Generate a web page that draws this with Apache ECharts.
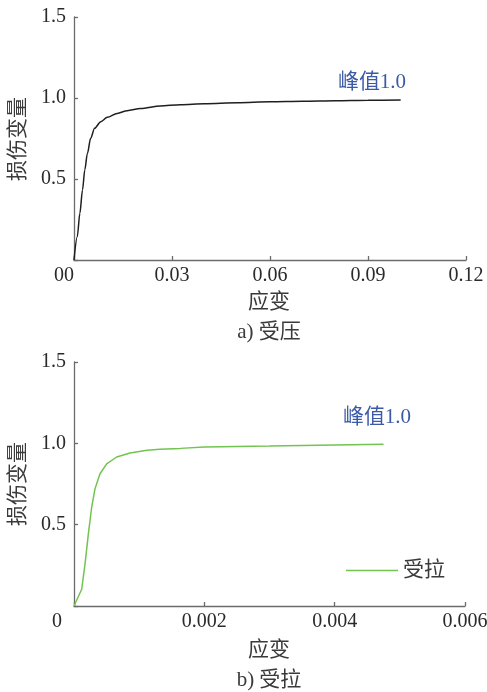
<!DOCTYPE html>
<html>
<head>
<meta charset="utf-8">
<script src="https://cdn.jsdelivr.net/npm/echarts@6/dist/echarts.min.js"></script>
<style>html,body{margin:0;padding:0;background:#fff}#c{width:487px;height:692px}</style>
</head>
<body>
<div id="c"></div>
<script>
// Compression (受压) damage curve: [strain, damage]
const compressionData = [
  [0, 0], [0.001, 0.144], [0.0018, 0.288], [0.0026, 0.432], [0.0033, 0.556],
  [0.0041, 0.658], [0.0051, 0.751], [0.0063, 0.813], [0.0082, 0.854],
  [0.0102, 0.881], [0.0132, 0.905], [0.0163, 0.922], [0.0204, 0.935],
  [0.0264, 0.951], [0.0325, 0.959], [0.04, 0.965], [0.05, 0.971],
  [0.06, 0.977], [0.07, 0.980], [0.08, 0.983], [0.09, 0.986], [0.1, 0.988]
];
// Tension (受拉) damage curve: [strain, damage]
const tensionData = [
  [0, 0], [0.000118, 0.103], [0.000169, 0.257], [0.00022, 0.442],
  [0.000271, 0.607], [0.000322, 0.72], [0.000399, 0.813], [0.000501, 0.874],
  [0.000655, 0.916], [0.00086, 0.94], [0.00112, 0.957], [0.00132, 0.963],
  [0.00163, 0.969], [0.002, 0.977], [0.003, 0.983], [0.004, 0.99], [0.00475, 0.995]
];
const yTicks = { min: 0, max: 1.5, interval: 0.5 };
const xTicksTop = { min: 0, max: 0.12, interval: 0.03 };
const xTicksBottom = { min: 0, max: 0.006, interval: 0.002 };
const yName = '损伤变量';
const xName = '应变';
const captionTop = 'a) 受压';
const captionBottom = 'b) 受拉';
const peakLabel = '峰值1.0';
const seriesNames = ['受压', '受拉'];

const serif = '"Liberation Serif","Noto Sans CJK SC",serif';
const cjk = '"Liberation Serif","Noto Sans CJK SC",sans-serif';
const axisColor = '#6b6b6b';
const textColor = '#2a2a2a';

function xAxis(gi, t, digits, minLabel) {
  return {
    type: 'value', gridIndex: gi, min: t.min, max: t.max, interval: t.interval,
    axisLine: { show: true, lineStyle: { color: axisColor, width: 1.3 } },
    axisTick: { show: true, inside: true, length: 4, lineStyle: { color: axisColor, width: 1.3 } },
    splitLine: { show: false },
    axisLabel: {
      margin: 6, fontSize: 20, fontFamily: serif, color: textColor,
      alignMinLabel: 'right', hideOverlap: false,
      formatter: v => v === 0 ? minLabel : v.toFixed(digits),
      rich: { z: { fontSize: 20, fontFamily: serif, color: textColor, padding: [0, 12, 0, 0] } }
    }
  };
}
function yAxis(gi) {
  return {
    type: 'value', gridIndex: gi, min: yTicks.min, max: yTicks.max, interval: yTicks.interval,
    axisLine: { show: true, lineStyle: { color: axisColor, width: 1.3 } },
    axisTick: { show: true, inside: true, length: 4, lineStyle: { color: axisColor, width: 1.3 } },
    splitLine: { show: false },
    axisLabel: {
      margin: 8, fontSize: 20, fontFamily: serif, color: textColor,
      formatter: v => v === 0 ? '' : v.toFixed(1)
    }
  };
}
function txt(x, y, s, opt) {
  return {
    type: 'text', x: x, y: y,
    style: Object.assign({
      text: s, fontSize: 21, fontFamily: cjk, fill: '#3a3a3a',
      align: 'center', verticalAlign: 'middle'
    }, opt || {})
  };
}

const chart = echarts.init(document.getElementById('c'), null, { renderer: 'canvas' });
chart.setOption({
  backgroundColor: '#fff',
  animation: false,
  grid: [
    { left: 74, right: 21, top: 17, height: 243, containLabel: false, outerBoundsMode: 'none' },
    { left: 74, right: 22, top: 362, height: 244, containLabel: false, outerBoundsMode: 'none' }
  ],
  xAxis: [xAxis(0, xTicksTop, 2, '00'), xAxis(1, xTicksBottom, 3, '{z|0}')],
  yAxis: [yAxis(0), yAxis(1)],
  legend: {
    data: [{ name: seriesNames[1], icon: 'rect' }], left: 341, top: 555, itemWidth: 52, itemHeight: 1.5, itemGap: 6,
    textStyle: { fontSize: 21, fontFamily: cjk, color: '#3a3a3a' }
  },
  series: [
    { name: seriesNames[0], type: 'line', xAxisIndex: 0, yAxisIndex: 0, data: compressionData,
      symbol: 'none', smooth: 0.3, smoothMonotone: 'x', lineStyle: { color: '#1f1f1f', width: 1.5 }, itemStyle: { color: '#1f1f1f' } },
    { name: seriesNames[1], type: 'line', xAxisIndex: 1, yAxisIndex: 1, data: tensionData,
      symbol: 'none', lineStyle: { color: '#72c450', width: 1.5 }, itemStyle: { color: '#72c450' } }
  ],
  graphic: [
    Object.assign(txt(18, 139, yName), { rotation: Math.PI / 2 }),
    txt(269, 302, xName),
    txt(269, 332, captionTop),
    txt(372, 82, peakLabel, { fill: '#3b5ba6', fontSize: 21 }),
    Object.assign(txt(18, 484, yName), { rotation: Math.PI / 2 }),
    txt(269, 650, xName),
    txt(269, 680, captionBottom),
    txt(377, 417, peakLabel, { fill: '#3b5ba6', fontSize: 21 })
  ]
});
</script>
</body>
</html>
